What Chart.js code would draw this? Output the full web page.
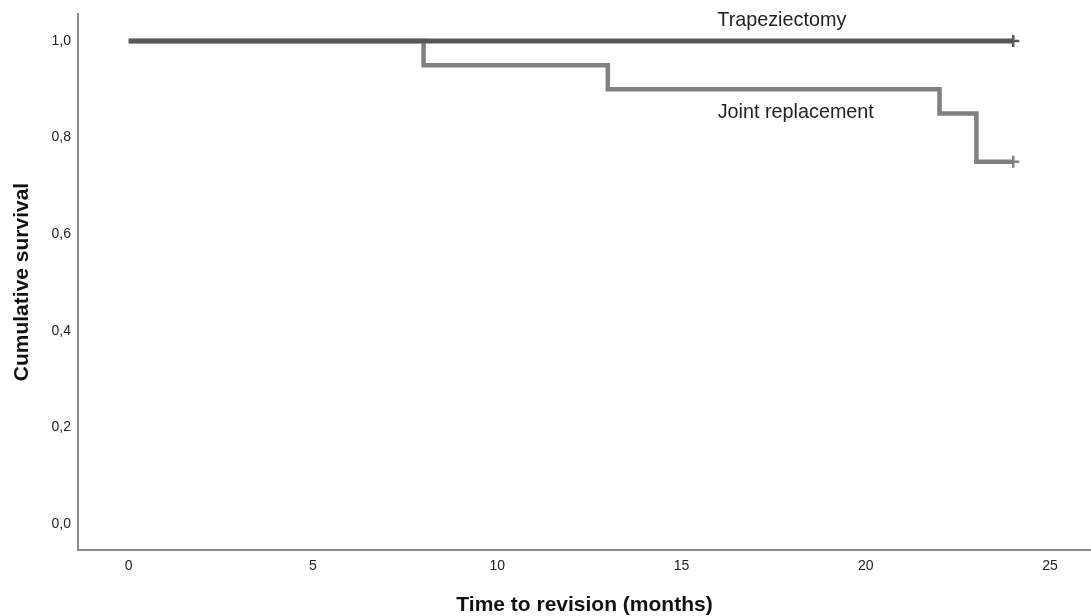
<!DOCTYPE html>
<html>
<head>
<meta charset="utf-8">
<script src="https://cdn.jsdelivr.net/npm/chart.js@4.4.0/dist/chart.umd.min.js"></script>
<style>
  html, body { margin: 0; padding: 0; background: #fff; overflow: hidden; }
  #wrap { width: 1091px; height: 616px; position: relative; }
</style>
</head>
<body>
<div id="wrap"><canvas id="c"></canvas></div>
<script>
// ---- data ----
const trapTime = [0, 24];
const trapSurv = [1.0, 1.0];
const jointTime = [0, 8, 13, 22, 23, 24];
const jointSurv = [1.0, 0.95, 0.90, 0.85, 0.75, 0.75];
const xTicks = [0, 5, 10, 15, 20, 25];
const yTicks = [0, 0.2, 0.4, 0.6, 0.8, 1.0];
const seriesNames = ['Trapeziectomy', 'Joint replacement'];
const seriesLabelAnchor = [[17.72, 1.043], [18.1, 0.851]];

const FONT = "'Liberation Sans', Arial, sans-serif";

function toPoints(xs, ys) { return xs.map((x, i) => ({ x: x, y: ys[i] })); }
function censorRadius(n) { return Array.from({ length: n }, (_, i) => i === n - 1 ? 6 : 0); }

const labelPlugin = {
  id: 'seriesLabels',
  afterDatasetsDraw(chart) {
    const { ctx, scales } = chart;
    ctx.save();
    ctx.font = '19.8px ' + FONT;
    ctx.fillStyle = '#222';
    ctx.textAlign = 'center';
    ctx.textBaseline = 'middle';
    seriesNames.forEach((name, i) => {
      const a = seriesLabelAnchor[i];
      ctx.fillText(name, scales.x.getPixelForValue(a[0]), scales.y.getPixelForValue(a[1]));
    });
    ctx.restore();
  }
};

new Chart(document.getElementById('c'), {
  type: 'line',
  data: {
    datasets: [
      {
        label: seriesNames[0],
        data: toPoints(trapTime, trapSurv),
        borderColor: '#575757',
        backgroundColor: '#575757',
        borderWidth: 5,
        stepped: 'before',
        pointStyle: 'cross',
        pointRadius: censorRadius(trapTime.length),
        pointBorderWidth: 2.5,
        pointBorderColor: '#575757',
        pointHoverRadius: 0,
        fill: false
      },
      {
        label: seriesNames[1],
        data: toPoints(jointTime, jointSurv),
        borderColor: '#808080',
        backgroundColor: '#808080',
        borderWidth: 4.5,
        stepped: 'before',
        pointStyle: 'cross',
        pointRadius: censorRadius(jointTime.length),
        pointBorderWidth: 2.5,
        pointBorderColor: '#808080',
        pointHoverRadius: 0,
        fill: false
      }
    ]
  },
  options: {
    responsive: true,
    maintainAspectRatio: false,
    animation: false,
    devicePixelRatio: 1,
    layout: { autoPadding: false, padding: { top: 14, right: 0, left: 0, bottom: 0 } },
    plugins: { legend: { display: false }, tooltip: { enabled: false } },
    events: [],
    scales: {
      x: {
        type: 'linear',
        min: -1.376,
        max: 26.11,
        grid: { display: false, drawTicks: false },
        border: { display: true, color: '#8a8a8a', width: 2 },
        afterBuildTicks: (s) => { s.ticks = xTicks.map(v => ({ value: v })); },
        afterFit: (s) => { s.height = 66; s.paddingLeft = 0; s.paddingRight = 0; },
        ticks: {
          color: '#222',
          padding: 8,
          maxRotation: 0,
          font: { family: FONT, size: 14 },
          callback: (v) => String(v)
        },
        title: {
          display: true,
          text: 'Time to revision (months)',
          color: '#111',
          font: { family: FONT, size: 21, weight: 'bold', lineHeight: 1 },
          padding: { top: 0, bottom: 0 }
        }
      },
      y: {
        type: 'linear',
        min: -0.054,
        max: 1.056,
        grid: { display: false, drawTicks: false },
        border: { display: true, color: '#8a8a8a', width: 2 },
        afterBuildTicks: (s) => { s.ticks = yTicks.map(v => ({ value: v })); },
        afterFit: (s) => { s.width = 78; s.paddingTop = 0; s.paddingBottom = 0; },
        ticks: {
          color: '#222',
          padding: 7,
          font: { family: FONT, size: 14 },
          callback: (v) => v.toFixed(1).replace('.', ',')
        },
        title: {
          display: true,
          text: 'Cumulative survival',
          color: '#111',
          font: { family: FONT, size: 21, weight: 'bold', lineHeight: 1 },
          padding: { top: 12, bottom: 0 }
        }
      }
    }
  },
  plugins: [labelPlugin]
});
</script>
</body>
</html>
